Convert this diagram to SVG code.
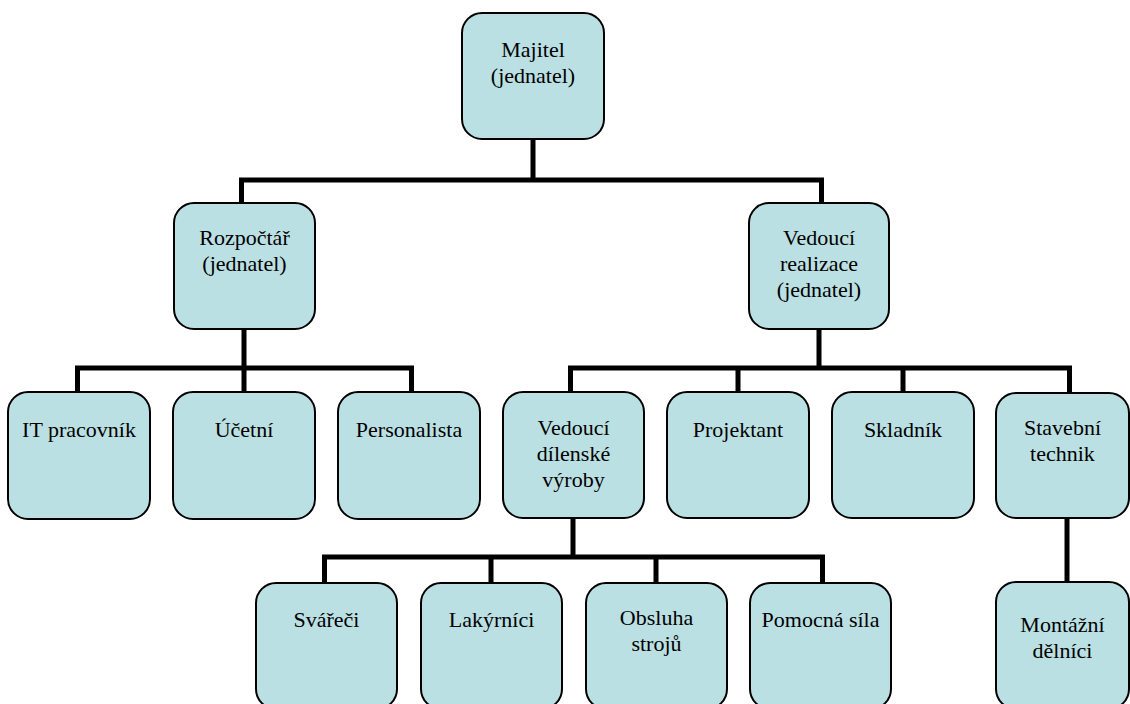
<svg xmlns="http://www.w3.org/2000/svg" width="1130" height="704" viewBox="0 0 1130 704">
<style>
.box{fill:#bbe0e3;stroke:#000;stroke-width:2}
text{font-family:'Liberation Serif','Times New Roman',Times,Tinos,'Noto Serif','Nimbus Roman','FreeSerif','DejaVu Serif',serif;font-size:22px;fill:#000;text-anchor:middle}
.c{fill:none;stroke:#000;stroke-width:5;stroke-linecap:butt}
</style>
<rect width="1130" height="704" fill="#fff"/>
<g id="connectors">
<path class="c" d="M533 139V180M241.5 203V180H821.5V203"/>
<path class="c" d="M244 329V368M77.5 392V368H411.5V392M244 368V392"/>
<path class="c" d="M819 329V368M570.5 392V368H1069.5V392M738 368V392M903 368V392"/>
<path class="c" d="M573 518V557M324.5 583V557H822.5V583M491 557V583M656 557V583"/>
<path class="c" d="M1067 518V582"/>
</g>
<g id="majitel"><rect class="box" x="462" y="13" width="142" height="126" rx="20"/><text x="533" y="57">Majitel</text><text x="533" y="83">(jednatel)</text></g>
<g id="rozpoctar"><rect class="box" x="174" y="203" width="141" height="126" rx="20"/><text x="244.5" y="245">Rozpočtář</text><text x="244.5" y="271">(jednatel)</text></g>
<g id="vedouci-realizace"><rect class="box" x="749" y="203" width="140" height="126" rx="20"/><text x="819" y="245">Vedoucí</text><text x="819" y="271">realizace</text><text x="819" y="297">(jednatel)</text></g>
<g id="it"><rect class="box" x="8" y="392" width="142" height="127" rx="20"/><text x="79" y="437">IT pracovník</text></g>
<g id="ucetni"><rect class="box" x="173" y="392" width="142" height="127" rx="20"/><text x="244" y="437">Účetní</text></g>
<g id="personalista"><rect class="box" x="338" y="392" width="142" height="127" rx="20"/><text x="409" y="437">Personalista</text></g>
<g id="vedouci-dilenske"><rect class="box" x="503" y="392" width="141" height="126" rx="20"/><text x="573.5" y="435">Vedoucí</text><text x="573.5" y="461">dílenské</text><text x="573.5" y="487">výroby</text></g>
<g id="projektant"><rect class="box" x="667" y="392" width="142" height="126" rx="20"/><text x="738" y="437">Projektant</text></g>
<g id="skladnik"><rect class="box" x="832" y="392" width="142" height="126" rx="20"/><text x="903" y="437">Skladník</text></g>
<g id="stavebni-technik"><rect class="box" x="996" y="393" width="133" height="125" rx="20"/><text x="1062.5" y="435">Stavební</text><text x="1062.5" y="461">technik</text></g>
<g id="svareci"><rect class="box" x="256" y="583" width="141" height="126" rx="20"/><text x="326.5" y="627">Svářeči</text></g>
<g id="lakyrnici"><rect class="box" x="421" y="583" width="141" height="126" rx="20"/><text x="491.5" y="627">Lakýrníci</text></g>
<g id="obsluha"><rect class="box" x="586" y="583" width="141" height="126" rx="20"/><text x="656.5" y="625">Obsluha</text><text x="656.5" y="651">strojů</text></g>
<g id="pomocna"><rect class="box" x="750" y="583" width="141" height="126" rx="20"/><text x="820.5" y="627">Pomocná síla</text></g>
<g id="montazni"><rect class="box" x="996" y="582" width="133" height="127" rx="20"/><text x="1062.5" y="632">Montážní</text><text x="1062.5" y="658">dělníci</text></g>
</svg>
